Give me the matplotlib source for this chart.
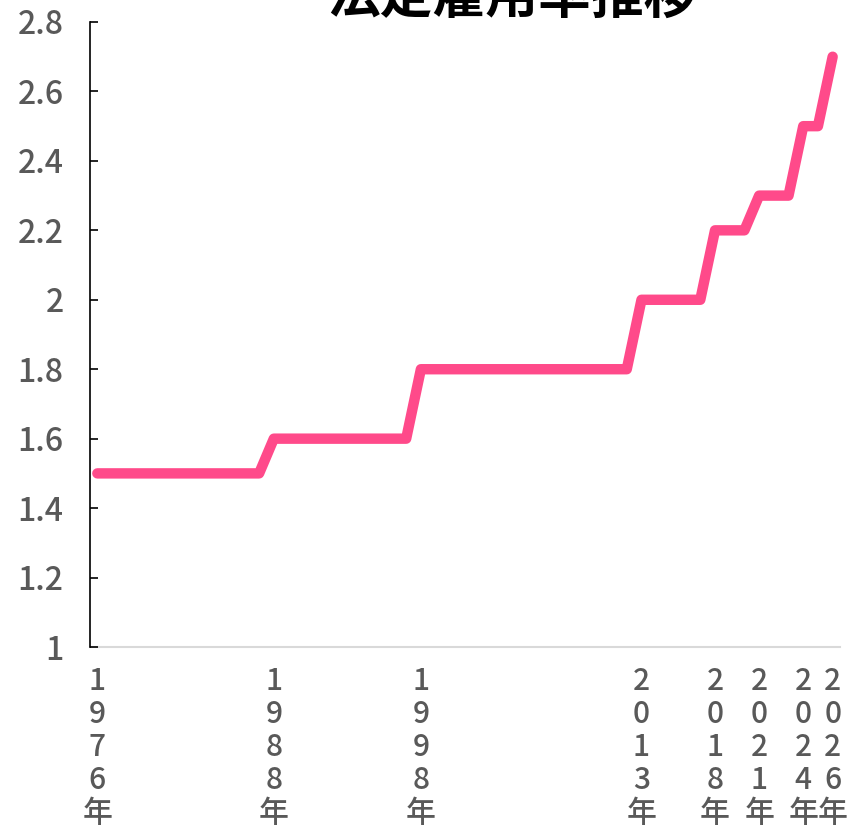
import matplotlib
matplotlib.use("Agg")
import matplotlib.pyplot as plt

plt.rcParams['font.family'] = ['Noto Sans CJK JP', 'DejaVu Sans']

# Statutory employment rate (%) by year
years = list(range(1976, 2027))
rate_periods = [(1976, 1.5), (1988, 1.6), (1998, 1.8), (2013, 2.0),
                (2018, 2.2), (2021, 2.3), (2024, 2.5), (2026, 2.7)]
label_years = [1976, 1988, 1998, 2013, 2018, 2021, 2024, 2026]
y_ticks = [1, 1.2, 1.4, 1.6, 1.8, 2, 2.2, 2.4, 2.6, 2.8]
y_tick_labels = ["1", "1.2", "1.4", "1.6", "1.8", "2", "2.2", "2.4", "2.6", "2.8"]
title = "法定雇用率推移"

rates = []
for y in years:
    r = None
    for start, val in rate_periods:
        if y >= start:
            r = val
    rates.append(r)

W, H = 848, 835
fig = plt.figure(figsize=(W / 100, H / 100), dpi=100)
ax = fig.add_axes([90 / W, (H - 647) / H, (840 - 90) / W, (647 - 22) / H])

ax.plot(years, rates, color="#FF4A8A", linewidth=7.5,
        solid_capstyle="round", solid_joinstyle="round")

ax.set_xlim(1975.5, 2026.5)
ax.set_ylim(1, 2.8)
ax.set_yticks(y_ticks)
ax.set_yticklabels(y_tick_labels, fontweight="medium")
ax.set_xticks(label_years)
ax.set_xticklabels(["\n".join(str(y)) + "\n年" for y in label_years],
                   linespacing=1.08, fontweight="medium")

ax.tick_params(axis="y", direction="in", length=6, width=1.2, color="black",
               pad=19, labelsize=23, labelcolor="#595959")
ax.tick_params(axis="x", length=0, pad=14, labelsize=21.5, labelcolor="#595959")

for s in ["top", "right"]:
    ax.spines[s].set_visible(False)
ax.spines["left"].set_color("black")
ax.spines["left"].set_linewidth(1.2)
ax.spines["bottom"].set_color("#D9D9D9")
ax.spines["bottom"].set_linewidth(1.5)
ax.spines["bottom"].set_zorder(0.5)

fig.text(512 / W, 1 - 14 / H, title, ha="center", va="baseline",
         fontsize=38, fontweight="bold", color="black")

fig.savefig("out.png", dpi=100)
